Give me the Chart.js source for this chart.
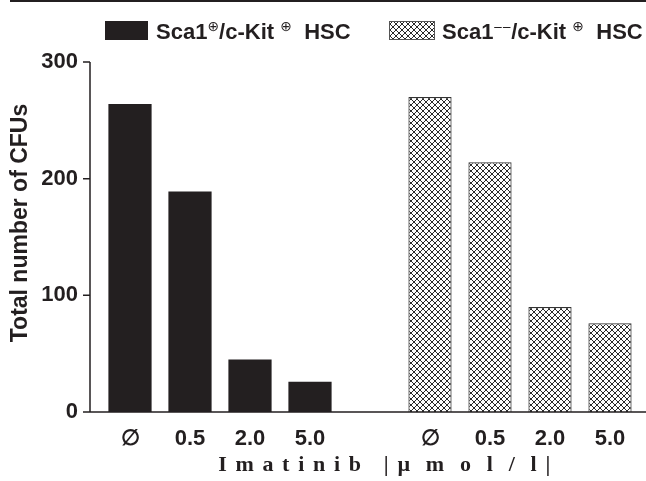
<!DOCTYPE html>
<html>
<head>
<meta charset="utf-8">
<script src="https://cdn.jsdelivr.net/npm/chart.js@4/dist/chart.umd.min.js"></script>
<style>
  body { margin: 0; background: #fff; }
  #wrap { width: 646px; height: 481px; }
</style>
</head>
<body>
<div id="wrap"><canvas id="chartCFU" width="646" height="481"></canvas></div>
<script>
// Datos
const categorias = ['\u2205', '0.5', '2.0', '5.0', '', '\u2205', '0.5', '2.0', '5.0'];
const valoresSca1Pos = [264, 189, 45, 26, null, null, null, null, null];
const valoresSca1Neg = [null, null, null, null, null, 270, 214, 90, 76];
const ticksY = [0, 100, 200, 300];
const tituloY = 'Total number of CFUs';
const tituloX = 'I m a t i n i b   | \u00b5  m  o  l  /  l |';
const leyendaPos = [['Sca1', false], ['\u2295', true], ['/c-Kit ', false], ['\u2295', true], ['  HSC', false]];
const leyendaNeg = [['Sca1', false], ['\u2012\u2012', true], ['/c-Kit ', false], ['\u2295', true], ['  HSC', false]];

const NEGRO = '#231f20';
const FUENTE = '"Liberation Sans", Arial, sans-serif';

// Patron cuadriculado para las barras Sca1-
function crearPatron() {
    const c = document.createElement('canvas');
    c.width = 6; c.height = 6;
    const g = c.getContext('2d');
    g.fillStyle = '#fff';
    g.fillRect(0, 0, 6, 6);
    g.strokeStyle = '#2a2a2a';
    g.lineWidth = 1;
    g.beginPath();
    g.moveTo(0, 0); g.lineTo(6, 6);
    g.moveTo(6, 0); g.lineTo(0, 6);
    g.stroke();
    return g.createPattern(c, 'repeat');
}
const patron = crearPatron();

function dibujarTextoLeyenda(ctx, partes, x, y) {
    partes.forEach(([t, sup]) => {
        ctx.font = sup ? '14px "DejaVu Sans", sans-serif' : 'bold 22px ' + FUENTE;
        ctx.fillText(t, x, sup ? y - 8 : y);
        x += ctx.measureText(t).width;
    });
}

const pluginEjes = {
    id: 'ejes',
    afterDraw(chart) {
        const ctx = chart.ctx;
        const yScale = chart.scales.y;
        const area = chart.chartArea;
        const xEje = area.left - 10;
        ctx.save();
        // linea superior
        ctx.fillStyle = NEGRO;
        ctx.fillRect(10, 0, 636, 2);
        // eje Y y marcas
        ctx.strokeStyle = NEGRO;
        ctx.lineWidth = 1.5;
        ctx.beginPath();
        ctx.moveTo(xEje, yScale.getPixelForValue(300));
        ctx.lineTo(xEje, area.bottom);
        ticksY.forEach(v => {
            const py = yScale.getPixelForValue(v);
            ctx.moveTo(xEje - 7, py);
            ctx.lineTo(xEje, py);
        });
        ctx.moveTo(xEje, area.bottom);
        ctx.lineTo(chart.width, area.bottom);
        ctx.stroke();

        // titulos
        ctx.fillStyle = NEGRO;
        ctx.textAlign = 'center';
        ctx.textBaseline = 'middle';
        ctx.font = 'bold 23px ' + FUENTE;
        ctx.save();
        ctx.translate(21, 223);
        ctx.rotate(-Math.PI / 2);
        ctx.fillText(tituloY, 0, 0);
        ctx.restore();
        ctx.font = 'bold 22px "Liberation Serif", "Times New Roman", serif';
        ctx.letterSpacing = '1.6px';
        ctx.fillText(tituloX, 385, 465);
        ctx.letterSpacing = '0px';

        // leyenda
        ctx.textAlign = 'left';
        ctx.textBaseline = 'alphabetic';
        ctx.fillStyle = NEGRO;
        ctx.fillRect(105, 21, 43, 19);
        dibujarTextoLeyenda(ctx, leyendaPos, 156, 39);
        ctx.fillStyle = patron;
        ctx.fillRect(389, 21, 46, 19);
        ctx.strokeStyle = '#555';
        ctx.lineWidth = 1;
        ctx.strokeRect(389.5, 21.5, 45, 18);
        ctx.fillStyle = NEGRO;
        dibujarTextoLeyenda(ctx, leyendaNeg, 442, 39);
        ctx.restore();
    }
};

const ctx = document.getElementById('chartCFU').getContext('2d');
const chartCFU = new Chart(ctx, {
    type: 'bar',
    data: {
        labels: categorias,
        datasets: [{
            label: 'Sca1+/c-Kit+ HSC',
            data: valoresSca1Pos,
            backgroundColor: NEGRO,
            borderColor: NEGRO,
            borderWidth: 0
        }, {
            label: 'Sca1-/c-Kit+ HSC',
            data: valoresSca1Neg,
            backgroundColor: patron,
            borderColor: '#333',
            borderWidth: 1.2
        }]
    },
    options: {
        responsive: false,
        animation: false,
        devicePixelRatio: 1,
        grouped: false,
        categoryPercentage: 1,
        barPercentage: 0.72,
        layout: { padding: { left: 0, right: 6, top: 62, bottom: 0 } },
        plugins: {
            legend: { display: false },
            tooltip: { enabled: false }
        },
        scales: {
            x: {
                grid: { display: false, drawTicks: false },
                border: { display: false },
                afterFit: s => { s.height = 69; },
                ticks: {
                    padding: 14,
                    color: NEGRO,
                    font: { family: FUENTE, size: 22, weight: 'bold' },
                    maxRotation: 0,
                    autoSkip: false
                }
            },
            y: {
                min: 0,
                max: 300,
                grid: { display: false, drawTicks: false },
                border: { display: false },
                afterFit: s => { s.width = 100; },
                afterBuildTicks: s => { s.ticks = ticksY.map(v => ({ value: v })); },
                ticks: {
                    padding: 22,
                    color: NEGRO,
                    font: { family: FUENTE, size: 22, weight: 'bold' }
                }
            }
        }
    },
    plugins: [pluginEjes]
});
</script>
</body>
</html>
